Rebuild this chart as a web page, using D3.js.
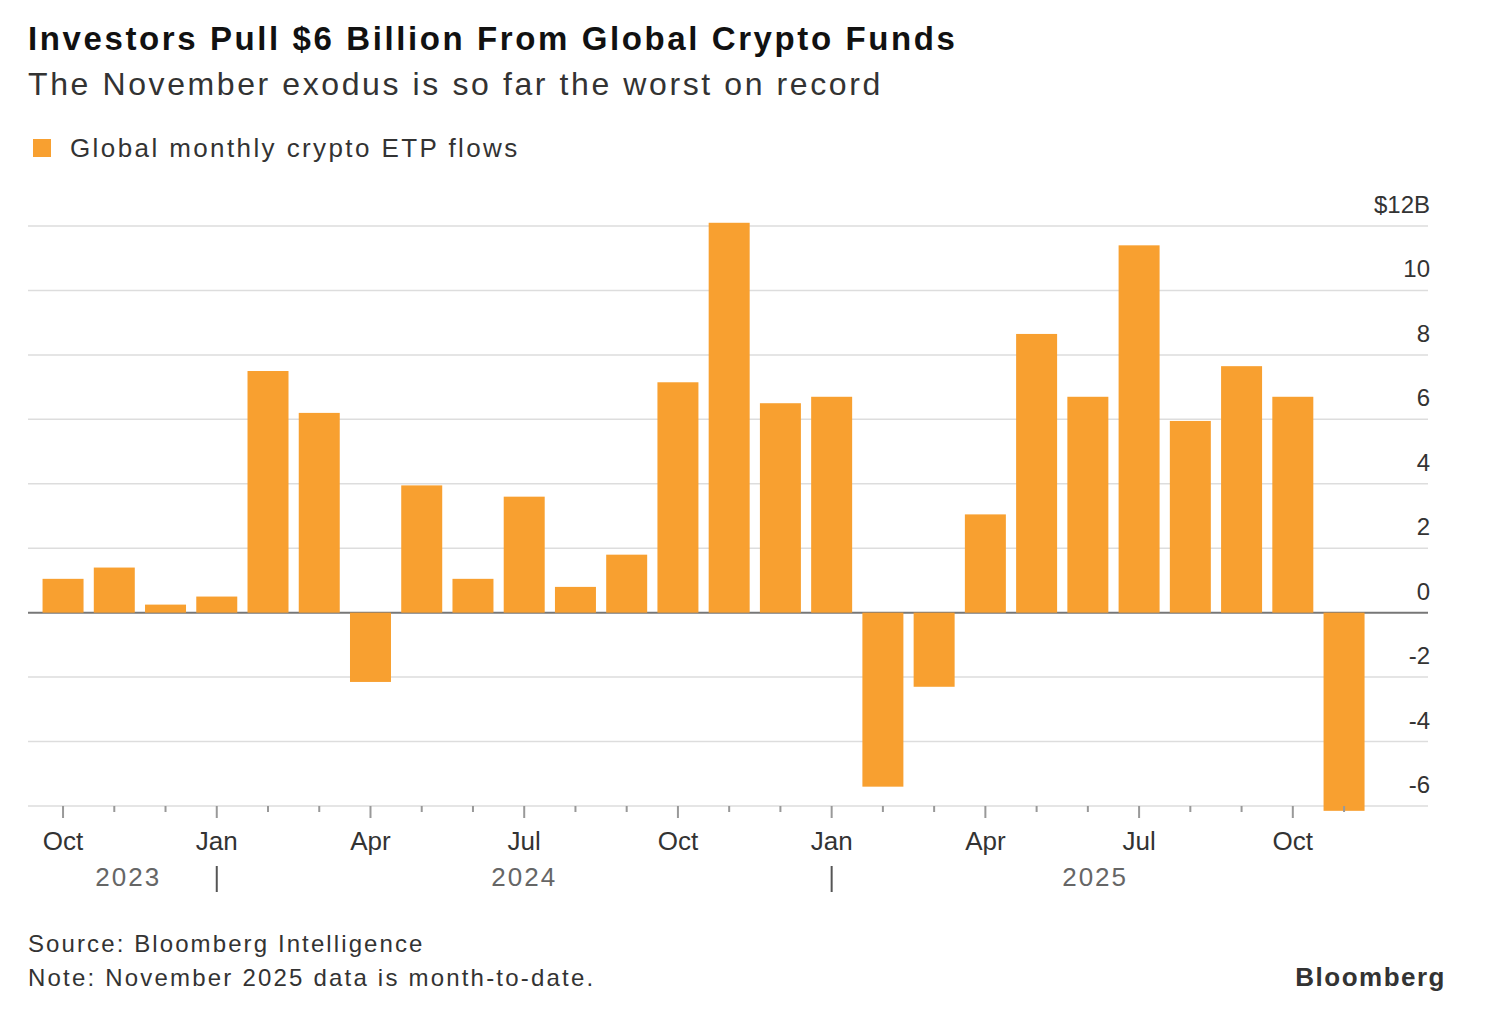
<!DOCTYPE html>
<html><head><meta charset="utf-8">
<script src="https://cdn.jsdelivr.net/npm/d3@7"></script>
<style>body{margin:0;background:#fff;font-family:"Liberation Sans",Arial,sans-serif}</style>
</head><body><svg id="c" width="1499" height="1011"></svg>
<script>
var months = ["2023-10","2023-11","2023-12","2024-01","2024-02","2024-03","2024-04","2024-05","2024-06","2024-07","2024-08","2024-09","2024-10","2024-11","2024-12","2025-01","2025-02","2025-03","2025-04","2025-05","2025-06","2025-07","2025-08","2025-09","2025-10","2025-11"];
var flows = [1.05,1.4,0.25,0.5,7.5,6.2,-2.15,3.95,1.05,3.6,0.8,1.8,7.15,12.1,6.5,6.7,-5.4,-2.3,3.05,8.65,6.7,11.4,5.95,7.65,6.7,-6.15];
var yTicks = [12,10,8,6,4,2,0,-2,-4,-6];
var monthLabels = {"2023-10":"Oct","2024-01":"Jan","2024-04":"Apr","2024-07":"Jul","2024-10":"Oct","2025-01":"Jan","2025-04":"Apr","2025-07":"Jul","2025-10":"Oct"};
var years = ["2023","2024","2025"];
var yearAnchor = ["2023-11","2024-07","2025-07"];
var yearBreaks = ["2024-01","2025-01"];

var svg = d3.select("#c");
var x = d3.scaleBand().domain(months).range([32.3,1374.8]).padding(0.2);
var y = d3.scaleLinear().domain([-6,12]).range([806,226]);
var L = 28, R = 1428;
function cx(d){return x(d)+x.bandwidth()/2}
var yearDx = [14,0,-44];

svg.append("text").attr("x",28).attr("y",50).attr("font-size",33).attr("font-weight","bold").attr("letter-spacing",2.6).attr("fill","#111").text("Investors Pull $6 Billion From Global Crypto Funds");
svg.append("text").attr("x",28).attr("y",95).attr("font-size",32).attr("letter-spacing",2.6).attr("fill","#333").text("The November exodus is so far the worst on record");
svg.append("rect").attr("x",33).attr("y",139).attr("width",18).attr("height",18).attr("fill","#f8a030");
svg.append("text").attr("x",70).attr("y",157).attr("font-size",26).attr("letter-spacing",2.4).attr("fill","#333").text("Global monthly crypto ETP flows");

svg.selectAll(".g").data(yTicks).enter().append("line")
  .attr("x1",L).attr("x2",R).attr("y1",function(d){return y(d)}).attr("y2",function(d){return y(d)})
  .attr("stroke",function(d){return d==0?"#777":"#ddd"}).attr("stroke-width",function(d){return d==0?2:1.5});
svg.selectAll(".yl").data(yTicks).enter().append("text")
  .attr("x",1430).attr("y",function(d){return y(d)-13}).attr("text-anchor","end").attr("font-size",24).attr("fill","#333")
  .text(function(d){return d==12?"$12B":d});

svg.selectAll(".b").data(months).enter().append("rect")
  .attr("x",function(d){return x(d)}).attr("width",x.bandwidth())
  .attr("y",function(d,i){return y(Math.max(0,flows[i]))})
  .attr("height",function(d,i){return Math.abs(y(flows[i])-y(0))})
  .attr("fill","#f8a030");

svg.selectAll(".t").data(months).enter().append("line")
  .attr("x1",cx).attr("x2",cx)
  .attr("y1",806).attr("y2",function(d){return monthLabels[d]?818:812}).attr("stroke","#999").attr("stroke-width",2);
svg.selectAll(".ml").data(months.filter(function(d){return monthLabels[d]})).enter().append("text")
  .attr("x",cx).attr("y",850).attr("text-anchor","middle").attr("font-size",26).attr("fill","#333")
  .text(function(d){return monthLabels[d]});
svg.selectAll(".yr").data(years).enter().append("text")
  .attr("x",function(d,i){return cx(yearAnchor[i])+yearDx[i]}).attr("y",886).attr("text-anchor","middle").attr("font-size",26).attr("fill","#666").attr("letter-spacing",2)
  .text(function(d){return d});
svg.selectAll(".yb").data(yearBreaks).enter().append("line")
  .attr("x1",cx).attr("x2",cx)
  .attr("y1",866).attr("y2",892).attr("stroke","#555").attr("stroke-width",2);

svg.append("text").attr("x",28).attr("y",952).attr("font-size",24).attr("letter-spacing",2.1).attr("fill","#333").text("Source: Bloomberg Intelligence");
svg.append("text").attr("x",28).attr("y",986).attr("font-size",24).attr("letter-spacing",2.2).attr("fill","#333").text("Note: November 2025 data is month-to-date.");
svg.append("text").attr("x",1446).attr("y",986).attr("text-anchor","end").attr("font-size",26).attr("font-weight","bold").attr("letter-spacing",1.5).attr("fill","#333").text("Bloomberg");
</script></body></html>
